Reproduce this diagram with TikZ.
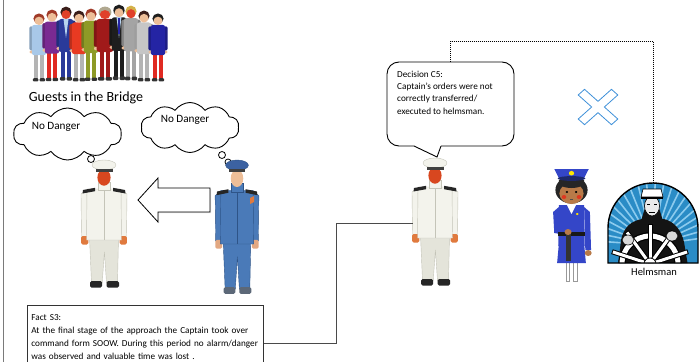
\documentclass[tikz,border=0pt]{standalone}
\usepackage{fontspec}
\setmainfont{Carlito}
\usetikzlibrary{shapes.symbols,shadows,calc}

% palette
\definecolor{framegray}{HTML}{7A7A7A}
\definecolor{linkgray}{HTML}{4A4A4A}
\definecolor{xblue}{HTML}{3D8FD8}
\definecolor{skinA}{HTML}{EDBE98}
\definecolor{skinR}{HTML}{E0402A}
\definecolor{skinB}{HTML}{B87A48}
\definecolor{hairRed}{HTML}{A03A28}
\definecolor{hairDark}{HTML}{3A1E1A}
\definecolor{hairBlond}{HTML}{D4B24A}
\definecolor{hairGray}{HTML}{B0A890}
\definecolor{topLight}{HTML}{A8C8E8}
\definecolor{topPurple}{HTML}{7A2A92}
\definecolor{topNavy}{HTML}{2A3A9A}
\definecolor{topRed}{HTML}{E83A22}
\definecolor{topOlive}{HTML}{8E9A26}
\definecolor{topMaroon}{HTML}{A01A1A}
\definecolor{topBlack}{HTML}{1E1E1E}
\definecolor{topGray}{HTML}{A4A4A4}
\definecolor{topSilver}{HTML}{C6C6C6}
\definecolor{topBlue}{HTML}{2424A4}
\definecolor{legGray}{HTML}{B4B4B4}
\definecolor{legRed}{HTML}{E02A22}
\definecolor{shirtLight}{HTML}{B8D4F0}
\definecolor{coatWhite}{HTML}{F3F3EC}
\definecolor{coatEdge}{HTML}{C4C4B8}
\definecolor{trouserWhite}{HTML}{E4E4DA}
\definecolor{capFace}{HTML}{D8471F}
\definecolor{capHand}{HTML}{E07A3E}
\definecolor{offBlue}{HTML}{4A7AB8}
\definecolor{offEdge}{HTML}{2E5488}
\definecolor{offCap}{HTML}{3C62A2}
\definecolor{offHand}{HTML}{E2A882}
\definecolor{offShoe}{HTML}{5C6878}
\definecolor{polBlue}{HTML}{3446C8}
\definecolor{badgeBlue}{HTML}{2A8CC6}
\definecolor{rayBlue}{HTML}{8CCBEE}

\tikzset{
  thought/.style={cloud, cloud puffs=10, cloud puff arc=110, aspect=2.2,
    draw=black, line width=0.9pt, fill=white, inner sep=0pt},
  puff/.style={circle, draw=black, line width=0.8pt, fill=white, inner sep=0pt},
  plain/.style={inner sep=0pt, outer sep=0pt},
  factbox/.style={draw=black!80, line width=0.8pt, fill=white, anchor=north west,
    text width=228pt, align=left, inner xsep=4pt, inner ysep=0pt,
    font=\fontsize{9.2}{13}\selectfont},
  calltext/.style={anchor=north west, align=left, inner sep=0pt,
    font=\fontsize{9.2}{12.4}\selectfont},
  bigarrow/.style={draw=black, line width=0.8pt, fill=white,
    drop shadow={shadow xshift=1.2pt, shadow yshift=-1.2pt, opacity=0.25}},
  link/.style={draw=linkgray, line width=0.9pt},
  dotlink/.style={draw=black, line width=0.6pt, dash pattern=on 1pt off 1pt},
  % small standing guest: hair, clothes, legs, face
  pics/guest/.style n args={4}{code={
    \fill[#3] (-4.6,44) rectangle (-0.6,73);
    \fill[#3] (0.6,44) rectangle (4.6,73);
    \fill[black!80, rounded corners=1] (-6.2,72) rectangle (-0.6,75.5);
    \fill[black!80, rounded corners=1] (0.6,72) rectangle (6.2,75.5);
    \fill[#2!80!black, rounded corners=1.5] (-9.6,15.5) rectangle (-6,42);
    \fill[#2!80!black, rounded corners=1.5] (6,15.5) rectangle (9.6,42);
    \fill[skinA] (-7.8,43.5) circle (1.8);
    \fill[skinA] (7.8,43.5) circle (1.8);
    \fill[#2, rounded corners=2.5] (-7.2,14) rectangle (7.2,47);
    \fill[#1] (0,7.2) circle (5.6);
    \fill[#4] (0,9.6) circle (4.5);
  }},
  % uniformed officer: cap, coat, trousers, face, hands, shoes, edge
  pics/officer/.style n args={7}{code={
    \fill[#3, draw=#7, line width=0.4pt] (-14.5,78) -- (14.5,78) -- (13.5,123)
      -- (2.5,123) -- (0.4,92) -- (-1.8,123) -- (-12.5,123) -- cycle;
    \fill[#6, rounded corners=1.5] (-14,121) rectangle (-1.8,127.5);
    \fill[#6, rounded corners=1.5] (2.5,121) rectangle (15,127.5);
    \fill[#2, draw=#7, line width=0.4pt] (-23,34) -- (-17,29.5) -- (-15.5,77) -- (-22.5,77) -- cycle;
    \fill[#2, draw=#7, line width=0.4pt] (23,34) -- (17,29.5) -- (15.5,77) -- (22.5,77) -- cycle;
    \fill[#5, rounded corners=1.5] (-22.8,76) rectangle (-15.6,84.5);
    \fill[#5, rounded corners=1.5] (15.6,76) rectangle (22.8,84.5);
    \fill[#2, draw=#7, line width=0.4pt] (-17,29) -- (17,29) -- (17.5,80) -- (-17.5,80) -- cycle;
    \draw[#7, line width=0.5pt] (0,30) -- (0,80);
    \fill[black!85] (-21,30) -- (-9,27.8) -- (-9,31.2) -- (-21.5,33.5) -- cycle;
    \fill[black!85] (21,30) -- (9,27.8) -- (9,31.2) -- (21.5,33.5) -- cycle;
    \fill[#2, draw=#7, line width=0.4pt] (-6,22) rectangle (6,30.5);
    \fill[#4] (0,17.5) ellipse (6.6 and 8.2);
    \fill[#1, draw=#7, line width=0.4pt] (0,5) ellipse (12 and 5);
    \fill[black!75] (-8.5,8.6) rectangle (8.5,11.6);
  }},
}

\begin{document}
\begin{tikzpicture}[x=1pt,y=-1pt]
\useasboundingbox (0,0) rectangle (700,361);
\clip (0,0) rectangle (700,361);

% left frame edge
\draw[framegray, line width=0.8pt] (3,-2) -- (3,363);

% ---------- guests ----------
\pic[yscale=0.92] at (39,12) {guest={hairRed}{topLight}{legGray}{skinA}};
\pic[yscale=0.97] at (52,8) {guest={hairRed}{topPurple}{legRed}{skinA}};
\pic at (66,5) {guest={hairDark}{topNavy}{topNavy}{skinR}};
\fill[shirtLight] (63.5,19) -- (68.5,19) -- (66,38) -- cycle;
\pic[yscale=0.96] at (79,9) {guest={hairDark}{topRed}{legGray}{skinA}};
\pic[yscale=0.98] at (91,7) {guest={hairRed}{topOlive}{topOlive}{skinA}};
\pic[xscale=1.15] at (105,5) {guest={hairGray}{topMaroon}{topMaroon}{skinR}};
\pic[yscale=1.02] at (119,3) {guest={topBlack}{topBlack}{topBlack}{skinA}};
\fill[shirtLight] (116.5,17) -- (121.5,17) -- (119,38) -- cycle;
\fill[topBlue] (118.4,18) rectangle (119.6,34);
\pic[yscale=1.01] at (131,4) {guest={hairBlond}{topGray}{topGray}{skinR}};
\pic[yscale=0.96] at (144,9) {guest={hairDark}{topSilver}{legGray}{skinA}};
\pic[yscale=0.92] at (158,12) {guest={topBlack}{topBlue}{legRed}{skinA}};

\node[plain, font=\fontsize{14}{16}\selectfont] (guests) at (86,98) {Guests in the Bridge};

% ---------- thought clouds ----------
\node[thought, minimum width=108pt, minimum height=52pt] (cloudA) at (67.5,134) {};
\node[plain, font=\fontsize{11.2}{13}\selectfont] (textA) at (56,127) {No Danger};
\node[puff, minimum size=7pt] (puffA1) at (91,159) {};
\node[puff, minimum size=6pt] (puffA2) at (98,165) {};

\node[thought, minimum width=98pt, minimum height=50pt] (cloudB) at (190,127.5) {};
\node[plain, font=\fontsize{11.2}{13}\selectfont] (textB) at (185,120) {No Danger};
\node[puff, minimum size=7pt] (puffB1) at (222,155) {};
\node[puff, minimum size=6pt] (puffB2) at (228,162) {};

% ---------- officers ----------
\pic at (104,160) {officer={coatWhite}{coatWhite}{trouserWhite}{capFace}{capHand}{black!85}{coatEdge}};
\pic[xscale=0.95, yscale=1.05] at (237,160) {officer={offCap}{offBlue}{offBlue}{skinA}{offHand}{offShoe}{offEdge}};
\fill[capHand] (250,198) -- (254,196) -- (254,202) -- (250,204) -- cycle;

\pic at (435,158) {officer={coatWhite}{coatWhite}{trouserWhite}{capFace}{capHand}{black!85}{coatEdge}};
\node[plain, minimum width=44pt, minimum height=130pt] (cap2) at (435,223) {};

% hand-over arrow
\draw[bigarrow] (210,188) -- (158,188) -- (158,178) -- (138,200) -- (158,222)
  -- (158,212) -- (210,212) -- cycle;

% ---------- police officer ----------
\begin{scope}[shift={(571.5,168)}, xscale=1.15]
  \fill[white, draw=black!40, line width=0.3pt] (-4.5,92) rectangle (-1.8,113);
  \fill[white, draw=black!40, line width=0.3pt] (1.8,92) rectangle (4.5,113);
  \fill[polBlue] (-11,76) -- (11,76) -- (12.5,95) -- (-12.5,95) -- cycle;
  \fill[polBlue] (11,39) -- (16,44) -- (17,82) -- (12,82) -- cycle;
  \fill[skinB] (14.5,85) circle (3);
  \fill[polBlue] (-11,39) -- (-16,44) -- (-15,65) -- (-5,67) -- (-5,61) -- (-10,58) -- cycle;
  \fill[polBlue] (-11,37) -- (11,37) -- (11.5,78) -- (-11.5,78) -- cycle;
  \fill[black!90] (-11.5,64) rectangle (11.5,67.5);
  \fill[black!80] (-4.5,62) rectangle (-0.5,93);
  \fill[skinB] (-3,64) circle (3);
  \fill[white] (-4,37) -- (4,37) -- (0,46) -- cycle;
  \fill[yellow!80!orange] (5,46) circle (1.2);
  \fill[black!85] (0,22) ellipse (14 and 13.5);
  \fill[skinB] (0,25.5) ellipse (10.5 and 10.5);
  \fill[black!85] (-11,17) .. controls (-4,21) and (4,21) .. (11,17) -- (11,12) -- (-11,12) -- cycle;
  \fill[black] (-4,24) circle (1.1);
  \fill[black] (4,24) circle (1.1);
  \fill[red!55!skinB] (-6.5,29) circle (2);
  \fill[red!55!skinB] (6.5,29) circle (2);
  \draw[black!70, line width=0.5pt] (-1.5,31.5) -- (1.5,31.5);
  \fill[polBlue] (-15,1) -- (15,1) -- (11,10) -- (-11,10) -- cycle;
  \fill[topNavy!70!black] (0,10.5) ellipse (12 and 2.4);
  \fill[yellow!90!orange] (0,5.2) circle (2.3);
\end{scope}

% ---------- helmsman badge ----------
\begin{scope}
  \clip (608,263) -- (608,228) arc (180:360:45) -- (698,263) -- cycle;
  \fill[badgeBlue] (600,175) rectangle (705,270);
  \foreach \a in {184,192,...,356}
    \draw[rayBlue, line width=1.6pt] (653,245) -- ++(\a:75);
  % sailor
  \fill[black!92] (618,266) -- (621,240) .. controls (624,226) and (632,221) .. (642,219)
    -- (664,219) .. controls (675,222) and (681,230) .. (684,242) -- (688,266) -- cycle;
  \fill[black!92] (641,221) -- (645,208) -- (659,208) -- (663,221) -- cycle;
  \fill[white!92!black, draw=black, line width=0.6pt] (652,206) ellipse (7.5 and 10);
  \draw[black, line width=0.6pt] (647,204) -- (650,204) (654,204) -- (657,204) (649,212) -- (655,212);
  \fill[white, draw=black, line width=0.6pt] (641,197) -- (643,189) -- (661,189) -- (663,197) -- cycle;
  \fill[black] (641,196.5) rectangle (663,199);
  % wheel
  \draw[black, line width=7.5pt] (650,264) circle (28);
  \draw[white, line width=5pt] (650,264) circle (28);
  \foreach \a in {198,234,270,306,342} {
    \draw[black, line width=5pt] (650,264) -- ++(\a:40);
    \draw[white, line width=3pt] (650,264) -- ++(\a:39);
  }
  \fill[white, draw=black, line width=0.8pt] (650,264) circle (6);
  \fill[white!85!black, draw=black, line width=0.6pt] (628,240) ellipse (6 and 5);
  \fill[white!85!black, draw=black, line width=0.6pt] (672,236) ellipse (6 and 5);
\end{scope}
\draw[black, line width=1.4pt] (608,263) -- (608,228) arc (180:360:45) -- (698,263) -- cycle;
\node[plain, minimum width=90pt, minimum height=80pt] (helm) at (653,223) {};
\node[plain, font=\fontsize{10.5}{12}\selectfont] (helmlabel) at (654,272) {Helmsman};

% ---------- failed order link ----------
\draw[xblue, line width=0.8pt, shift={(598,107)}, xscale=1.12, rotate=45]
  (-4,-21) -- (4,-21) -- (4,-4) -- (21,-4) -- (21,4) -- (4,4) -- (4,21)
  -- (-4,21) -- (-4,4) -- (-21,4) -- (-21,-4) -- (-4,-4) -- cycle;

% ---------- decision callout ----------
\node[plain, minimum width=127pt, minimum height=84pt] (dec) at (450.5,104) {};
\draw[black, line width=0.9pt, rounded corners=12pt]
  ($(dec.south west)+(54,0)$) -- (dec.south east) -- (dec.north east)
  -- (dec.north west) -- (dec.south west) -- ($(dec.south west)+(27,0)$);
\draw[black, line width=0.9pt] ($(dec.south west)+(27,0)$) -- ($(dec.south west)+(50,11)$)
  -- ($(dec.south west)+(54,0)$);
\node[calltext] (dectext) at (397,70.5) {Decision C5:\\Captain’s orders were not\\correctly transferred/\\executed to helmsman.};

\draw[dotlink] (dec.north) -- ++(0,-21) -| (helm.north);

% ---------- fact box ----------
\node[factbox, minimum height=64pt] (fact) at (27,305) {Fact S3:\\At the final stage of the approach the Captain took over\\command form SOOW. During this period no alarm/danger\\was observed and valuable time was lost .};
\coordinate (bend) at (336,343);
\draw[link] (fact.east |- bend) -- (bend) |- (cap2.west);

\end{tikzpicture}
\end{document}
